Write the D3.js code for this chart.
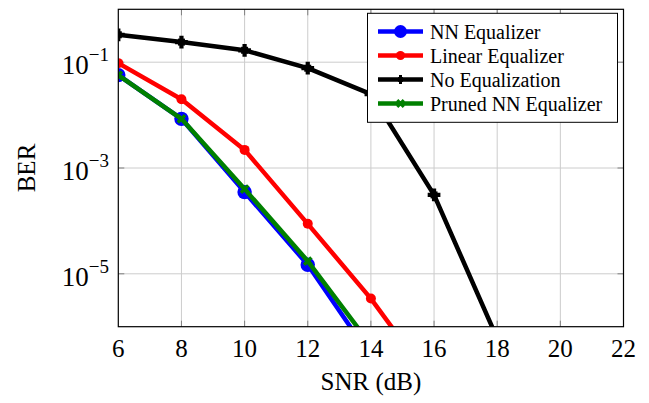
<!DOCTYPE html>
<html lang="en">

<head>
    <meta charset="UTF-8">
    <title>BER vs SNR</title>
    <script src="https://d3js.org/d3.v7.min.js"></script>
    <style>
        html,
        body {
            margin: 0;
            padding: 0;
            overflow: hidden;
            background: #ffffff;
        }

        #chart text {
            font-family: "Liberation Serif", "Times New Roman", Tinos, "DejaVu Serif", serif;
            fill: #000000;
        }
    </style>
</head>

<body>
    <svg id="chart" width="649" height="403" font-family="Liberation Serif"></svg>

    <script>
        // SNR points (dB) and the BER
        const snr = [6, 8, 10, 12, 14, 16, 18];
        const nn_ber = [0.057, 8.5e-3, 3.5e-4, 1.48e-5, 2.7e-7];
        const linear_ber = [0.096, 0.020, 2.2e-3, 8.8e-5, 3.4e-6, 8e-8];
        const noeq_ber = [0.33, 0.24, 0.168, 0.077, 0.025, 3.1e-4, 6e-7];
        const pruned_ber = [0.057, 8.5e-3, 4.0e-4, 1.74e-5, 4.5e-7];

        const x_ticks = [6, 8, 10, 12, 14, 16, 18, 20, 22];
        const y_ticks = [1e-1, 1e-3, 1e-5];
        const y_exponents = ["−1", "−3", "−5"];

        const series_names = ["NN Equalizer", "Linear Equalizer", "No Equalization", "Pruned NN Equalizer"];
        const series_colors = ["#0000ff", "#ff0000", "#000000", "#008000"];

        const series = [nn_ber, linear_ber, noeq_ber, pruned_ber].map((vals, i) => ({
            name: series_names[i],
            color: series_colors[i],
            points: vals.map((v, j) => ({ x: snr[j], y: v }))
        }));

        const svg = d3.select("#chart");
        const plot_left = 118.3, plot_right = 623.5, plot_top = 9.3, plot_bottom = 326.7;

        const x = d3.scaleLinear().domain([6, 22]).range([plot_left, plot_right]);
        const y = d3.scaleLog().domain([1e-6, 1]).range([plot_bottom, plot_top]);

        svg.append("defs").append("clipPath").attr("id", "plot_clip")
            .append("rect")
            .attr("x", plot_left).attr("y", plot_top)
            .attr("width", plot_right - plot_left).attr("height", plot_bottom - plot_top);

        // grid
        const grid = svg.append("g").attr("stroke", "#cccccc").attr("stroke-width", 1);
        grid.selectAll("line.vx").data(x_ticks.slice(1, -1)).enter().append("line")
            .attr("x1", d => x(d)).attr("x2", d => x(d))
            .attr("y1", plot_top).attr("y2", plot_bottom);
        grid.selectAll("line.hy").data(y_ticks).enter().append("line")
            .attr("x1", plot_left).attr("x2", plot_right)
            .attr("y1", d => y(d)).attr("y2", d => y(d));

        // inner tick marks
        const ticks = svg.append("g").attr("stroke", "#808080").attr("stroke-width", 1);
        x_ticks.slice(1, -1).forEach(t => {
            ticks.append("line").attr("x1", x(t)).attr("x2", x(t)).attr("y1", plot_bottom).attr("y2", plot_bottom - 6);
            ticks.append("line").attr("x1", x(t)).attr("x2", x(t)).attr("y1", plot_top).attr("y2", plot_top + 6);
        });
        y_ticks.forEach(t => {
            ticks.append("line").attr("x1", plot_left).attr("x2", plot_left + 6).attr("y1", y(t)).attr("y2", y(t));
            ticks.append("line").attr("x1", plot_right).attr("x2", plot_right - 6).attr("y1", y(t)).attr("y2", y(t));
        });

        // series
        const line = d3.line().x(d => x(d.x)).y(d => y(d.y));
        const plot = svg.append("g").attr("clip-path", "url(#plot_clip)");

        function drawMarker(g, i, cx, cy, scale) {
            const s = scale || 1;
            if (i === 0) {
                g.append("circle").attr("cx", cx).attr("cy", cy).attr("r", 7.2 * s)
                    .attr("fill", "#0000ff");
            } else if (i === 1) {
                g.append("circle").attr("cx", cx).attr("cy", cy).attr("r", 5 * s)
                    .attr("fill", "#ff0000");
            } else if (i === 2) {
                g.append("path")
                    .attr("d", d3.symbol(d3.symbolCross, 90 * s * s)())
                    .attr("transform", `translate(${cx},${cy})`)
                    .attr("fill", "#000000");
                g.append("rect").attr("x", cx - 3.5 * s).attr("y", cy - 3.5 * s)
                    .attr("width", 7 * s).attr("height", 7 * s).attr("fill", "#000000");
            } else {
                g.append("path")
                    .attr("d", d3.symbol(d3.symbolCross, 60 * s * s)())
                    .attr("transform", `translate(${cx},${cy}) rotate(45)`)
                    .attr("fill", "#008000");
            }
        }

        series.forEach((s, i) => {
            plot.append("path")
                .datum(s.points)
                .attr("fill", "none")
                .attr("stroke", s.color)
                .attr("stroke-width", 4.5)
                .attr("stroke-linejoin", "round")
                .attr("d", line);
            const mg = plot.append("g");
            s.points.forEach(p => drawMarker(mg, i, x(p.x), y(p.y)));
        });

        // axis box
        svg.append("rect")
            .attr("x", plot_left).attr("y", plot_top)
            .attr("width", plot_right - plot_left).attr("height", plot_bottom - plot_top)
            .attr("fill", "none").attr("stroke", "#000000").attr("stroke-width", 1.2);

        // tick labels
        svg.append("g").selectAll("text").data(x_ticks).enter().append("text")
            .attr("x", d => x(d)).attr("y", 357)
            .attr("text-anchor", "middle")
            .attr("font-size", "25px")
            .text(d => d);

        const ylab = svg.append("g").selectAll("text").data(y_ticks).enter().append("text")
            .attr("x", 109).attr("y", d => y(d) + 12)
            .attr("text-anchor", "end")
            .attr("font-size", "27px");
        ylab.append("tspan").text("10");
        ylab.append("tspan").attr("dy", -13).attr("font-size", "19px").text((d, i) => y_exponents[i]);

        // axis titles
        svg.append("text")
            .attr("x", (plot_left + plot_right) / 2).attr("y", 390)
            .attr("text-anchor", "middle")
            .attr("font-size", "25px")
            .text("SNR (dB)");

        svg.append("text")
            .attr("transform", `translate(35,${(plot_top + plot_bottom) / 2}) rotate(-90)`)
            .attr("text-anchor", "middle")
            .attr("font-size", "25px")
            .text("BER");

        // legend
        const legend = svg.append("g");
        legend.append("rect")
            .attr("x", 367.5).attr("y", 13.3)
            .attr("width", 250).attr("height", 109)
            .attr("fill", "#ffffff").attr("stroke", "#000000").attr("stroke-width", 1);

        series.forEach((s, i) => {
            const ly = 31.5 + i * 24;
            legend.append("line")
                .attr("x1", 378).attr("x2", 423)
                .attr("y1", ly).attr("y2", ly)
                .attr("stroke", s.color).attr("stroke-width", 4.5);
            drawMarker(legend, i, 400.5, ly, i === 2 ? 0.7 : 0.9);
            legend.append("text")
                .attr("x", 430).attr("y", ly)
                .attr("dominant-baseline", "central")
                .attr("font-size", "20px")
                .text(s.name);
        });
    </script>
</body>

</html>
